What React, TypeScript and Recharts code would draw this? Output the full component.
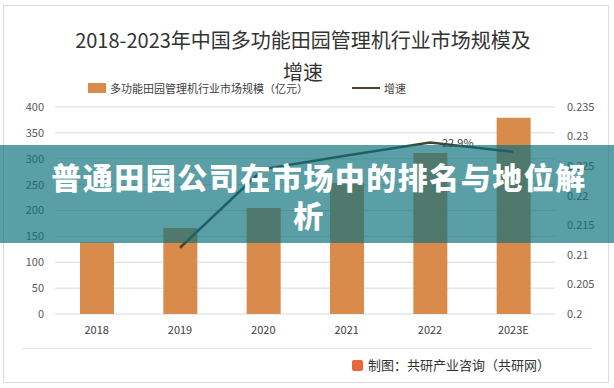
import { ComposedChart, Bar, Line, XAxis, YAxis, CartesianGrid, LabelList } from 'recharts';

const years = ['2018', '2019', '2020', '2021', '2022', '2023E'];
const marketSize = [138, 166, 205, 253, 311, 379];
const growth = [null, 0.2112, 0.2245, 0.2268, 0.229, 0.2274];
const labelledYear = '2022';
const leftTicks = [0, 50, 100, 150, 200, 250, 300, 350, 400];
const rightTicks = [0.2, 0.205, 0.21, 0.215, 0.22, 0.225, 0.23, 0.235];

const BAR = '#D88B4B';
const LINE = '#4a3f35';
const FONT = '"Noto Sans CJK SC", "Noto Sans", sans-serif';

const data = years.map((y, i) => ({ year: y, size: marketSize[i], rate: growth[i] }));

function RateLabel(props: any) {
  const { x, y, value, index } = props;
  if (value == null || years[index] !== labelledYear) return null;
  return (
    <text x={x + 12} y={y + 5} fontSize={11} fill="#404040" fontFamily={FONT}>
      {(value * 100).toFixed(1)}%
    </text>
  );
}

export default function App() {
  return (
    <div style={{ position: 'absolute', left: 0, top: 0, width: 614, height: 388, background: '#fff', fontFamily: FONT, overflow: 'hidden' }}>
      <div style={{ position: 'absolute', left: 3, top: 5, width: 604, height: 376, border: '1px solid #dcdcdc' }} />

      {/* title */}
      <div style={{ position: 'absolute', left: 0, top: 24, width: 606, textAlign: 'center', fontSize: 20, lineHeight: '32px', color: '#333' }}>
        <div>2018-2023年中国多功能田园管理机行业市场规模及</div>
        <div>增速</div>
      </div>

      {/* legend */}
      <div style={{ position: 'absolute', left: 88, top: 83, width: 18, height: 10, background: BAR }} />
      <div style={{ position: 'absolute', left: 110, top: 80, fontSize: 11, lineHeight: '16px', color: '#404040' }}>多功能田园管理机行业市场规模（亿元）</div>
      <div style={{ position: 'absolute', left: 352, top: 87, width: 28, height: 2, background: LINE }} />
      <div style={{ position: 'absolute', left: 384, top: 80, fontSize: 11, lineHeight: '16px', color: '#404040' }}>增速</div>

      <div style={{ position: 'absolute', left: 0, top: 0 }}>
        <ComposedChart width={614} height={388} data={data} margin={{ top: 107, right: 19, bottom: 44, left: 15 }}>
          <CartesianGrid yAxisId="left" vertical={false} stroke="#d9d9d9" />
          <XAxis
            dataKey="year"
            axisLine={false}
            tickLine={false}
            tickSize={0}
            tickMargin={12}
            height={30}
            tick={{ fontSize: 11, fill: '#404040', fontFamily: FONT }}
          />
          <YAxis
            yAxisId="left"
            domain={[0, 400]}
            ticks={leftTicks}
            axisLine={false}
            tickLine={false}
            tickSize={0}
            tickMargin={11}
            width={40}
            tick={{ fontSize: 11, fill: '#595959', fontFamily: FONT }}
          />
          <YAxis
            yAxisId="right"
            orientation="right"
            domain={[0.2, 0.235]}
            ticks={rightTicks}
            axisLine={false}
            tickLine={false}
            tickSize={0}
            tickMargin={12}
            width={40}
            textAnchor="start"
            tick={{ fontSize: 11, fill: '#595959', fontFamily: FONT, textAnchor: 'start' }}
          />
          <Bar yAxisId="left" dataKey="size" fill={BAR} barSize={34} isAnimationActive={false} />
          <Line
            yAxisId="right"
            dataKey="rate"
            type="linear"
            stroke={LINE}
            strokeWidth={2.5}
            dot={false}
            activeDot={false}
            connectNulls={false}
            isAnimationActive={false}
          >
            <LabelList dataKey="rate" content={<RateLabel />} />
          </Line>
        </ComposedChart>
      </div>

      {/* overlay banner */}
      <div
        style={{
          position: 'absolute',
          left: 0,
          top: 145,
          width: 614,
          height: 98,
          background: 'rgba(12,112,124,0.68)',
          color: '#fff',
          fontWeight: 900,
          fontSize: 30,
          letterSpacing: 1.5,
          lineHeight: '38px',
          textAlign: 'center',
          paddingTop: 12,
          boxSizing: 'border-box',
        }}
      >
        <div style={{ paddingLeft: 24 }}>普通田园公司在市场中的排名与地位解</div>
        <div style={{ paddingLeft: 4 }}>析</div>
      </div>

      {/* footer */}
      <div style={{ position: 'absolute', left: 22, top: 348, width: 570, height: 1, background: '#e3e3e3' }} />
      <div style={{ position: 'absolute', left: 352, top: 360, width: 11, height: 11, borderRadius: 2, background: '#e8683c' }} />
      <div style={{ position: 'absolute', left: 368, top: 356, fontSize: 13, lineHeight: '18px', color: '#333' }}>制图：共研产业咨询（共研网）</div>
    </div>
  );
}
